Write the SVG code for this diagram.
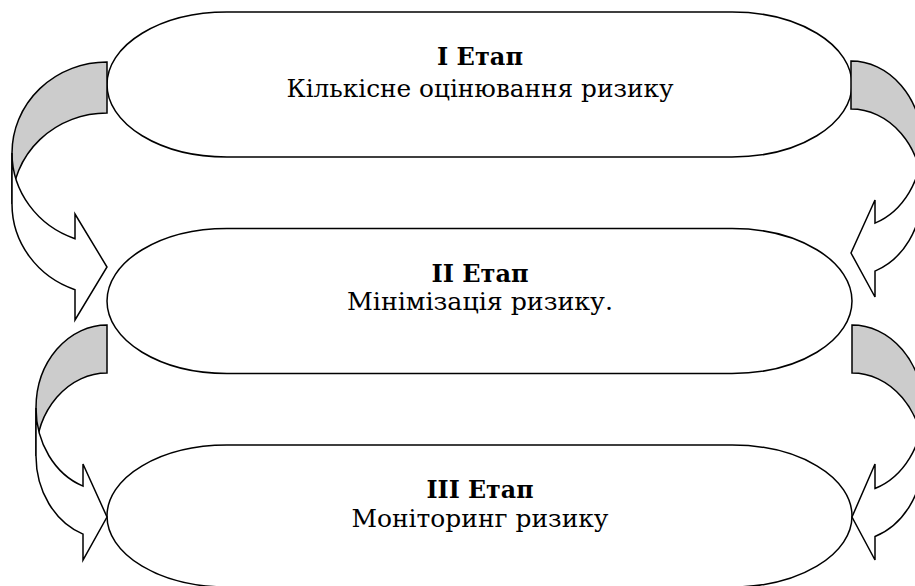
<svg xmlns="http://www.w3.org/2000/svg" width="915" height="586" viewBox="0 0 915 586">
  <style>
    .stage { fill: #ffffff; stroke: #000000; stroke-width: 1.5; }
    .back { fill: #cccccc; stroke: #000000; stroke-width: 1.5; stroke-linejoin: miter; }
    .front { fill: #ffffff; stroke: #000000; stroke-width: 1.5; stroke-linejoin: miter; }
    .title { font-family: "DejaVu Serif", "Liberation Serif", serif; font-size: 24px; font-weight: bold; fill: #000; text-anchor: middle; }
    .label { font-family: "DejaVu Serif", "Liberation Serif", serif; font-size: 24px; fill: #000; text-anchor: middle; }
  </style>
  <rect width="915" height="586" fill="#ffffff"/>

  <g id="stage1">
    <rect class="stage" x="107" y="12" width="745" height="145" rx="120" ry="72.5"/>
    <text class="title" x="480" y="65" textLength="86" lengthAdjust="spacingAndGlyphs">I Етап</text>
    <text class="label" x="480" y="97" textLength="387" lengthAdjust="spacingAndGlyphs">Кількісне оцінювання ризику</text>
  </g>

  <g id="stage2">
    <rect class="stage" x="107" y="228.5" width="745" height="145" rx="120" ry="72.5"/>
    <text class="title" x="480" y="282">II Етап</text>
    <text class="label" x="480" y="310" textLength="266" lengthAdjust="spacingAndGlyphs">Мінімізація ризику.</text>
  </g>

  <g id="stage3">
    <rect class="stage" x="107" y="445" width="745" height="142" rx="120" ry="71"/>
    <text class="title" x="480" y="498" textLength="107" lengthAdjust="spacingAndGlyphs">III Етап</text>
    <text class="label" x="480" y="527" textLength="257" lengthAdjust="spacingAndGlyphs">Моніторинг ризику</text>
  </g>

  <g id="connectors">
    <g id="arrow-left-1-2">
      <path class="back" d="M107,62 A95,91 0 0 0 12,153 L12,204 A95,91 0 0 1 107,113 Z"/>
      <path class="front" d="M12,153 A95,91 0 0 0 75,238.7 L75,214 L107,267 L75,320 L75,289.7 A95,91 0 0 1 12,204 Z"/>
    </g>
    <g id="arrow-right-1-2">
      <path class="back" d="M851,61 A71,83.5 0 0 1 922,144.5 L922,192.5 A71,83.5 0 0 0 851,109 Z"/>
      <path class="front" d="M922,144.5 A71,83.5 0 0 1 875,223.1 L875,200 L851,253 L875,297 L875,271.1 A71,83.5 0 0 0 922,192.5 Z"/>
    </g>
    <g id="arrow-left-2-3">
      <path class="back" d="M107,325 A71,83 0 0 0 36,408 L36,456 A71,83 0 0 1 107,373 Z"/>
      <path class="front" d="M36,408 A71,83 0 0 0 83,486.1 L83,464 L107,517 L83,560 L83,534.1 A71,83 0 0 1 36,456 Z"/>
    </g>
    <g id="arrow-right-2-3">
      <path class="back" d="M852,325 A71,84 0 0 1 923,409 L923,457 A71,84 0 0 0 852,373 Z"/>
      <path class="front" d="M923,409 A71,84 0 0 1 875,488.5 L875,464 L852,517 L875,560 L875,536.5 A71,84 0 0 0 923,457 Z"/>
    </g>
  </g>
</svg>
